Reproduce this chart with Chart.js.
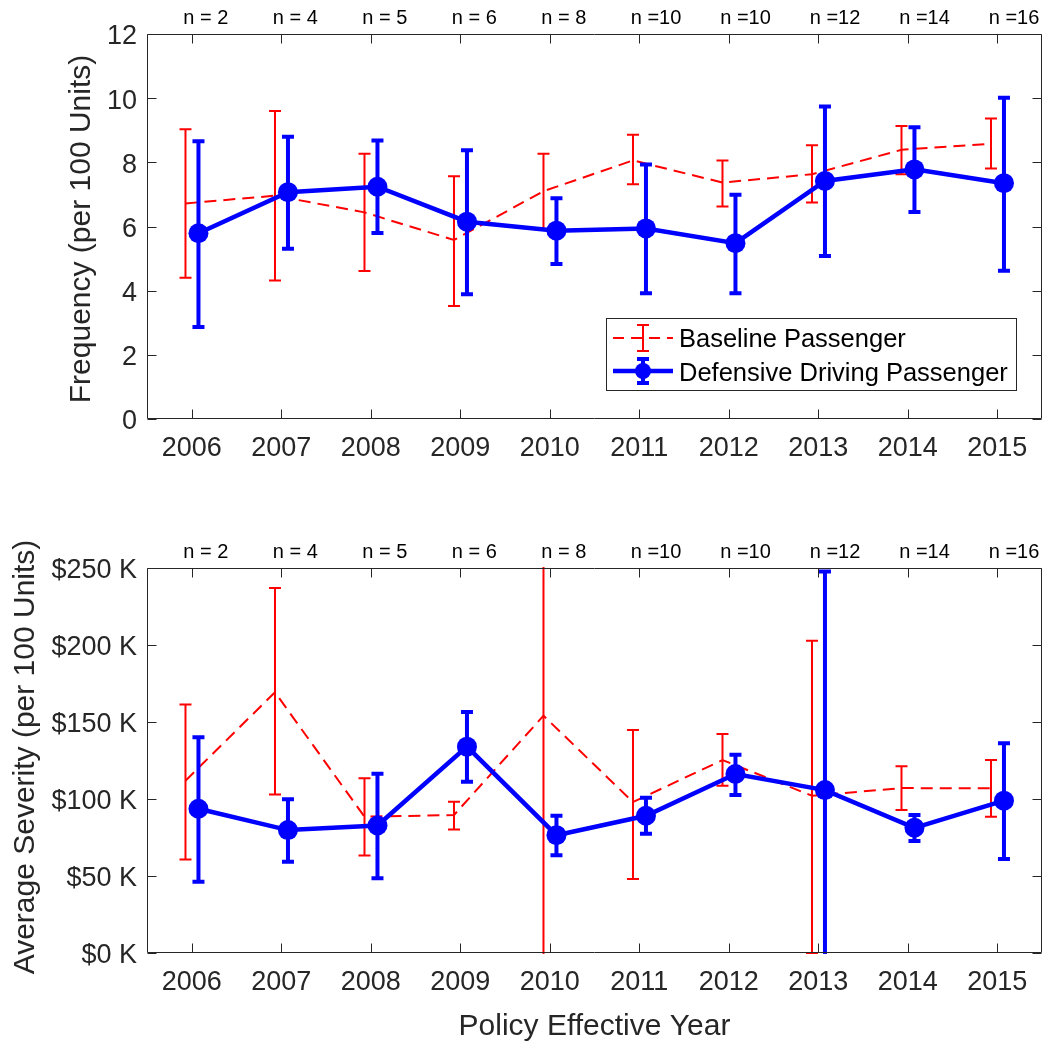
<!DOCTYPE html>
<html>
<head>
<meta charset="utf-8">
<script src="https://cdn.jsdelivr.net/npm/chart.js@4/dist/chart.umd.min.js"></script>
<style>
  html, body { margin: 0; padding: 0; background: #fff; }
  #wrap { position: relative; width: 1045px; height: 1042px; overflow: hidden; }
  .panel { position: absolute; left: 0; width: 1045px; }
</style>
</head>
<body>
<div id="wrap">
  <div class="panel" style="top:0;height:480px"><canvas id="freq" width="1045" height="480"></canvas></div>
  <div class="panel" style="top:480px;height:562px"><canvas id="sev" width="1045" height="562"></canvas></div>
</div>
<script>
// Policy years and group sizes
const years = [2006, 2007, 2008, 2009, 2010, 2011, 2012, 2013, 2014, 2015];
const sampleLabels = ['n = 2', 'n = 4', 'n = 5', 'n = 6', 'n = 8', 'n =10', 'n =10', 'n =12', 'n =14', 'n =16'];

// Frequency (per 100 units)
const freqBaseline      = [6.72, 6.96, 6.44, 5.58, 7.10, 8.06, 7.37, 7.63, 8.39, 8.58];
const freqBaselineLow   = [4.40, 4.32, 4.61, 3.52, 5.90, 7.32, 6.62, 6.75, 7.63, 7.81];
const freqBaselineHigh  = [9.03, 9.60, 8.27, 7.57, 8.27, 8.86, 8.06, 8.53, 9.13, 9.37];
const freqDefensive     = [5.79, 7.07, 7.24, 6.15, 5.87, 5.94, 5.48, 7.42, 7.78, 7.35];
const freqDefensiveLow  = [2.87, 5.31, 5.80, 3.89, 4.83, 3.92, 3.92, 5.08, 6.45, 4.62];
const freqDefensiveHigh = [8.66, 8.80, 8.68, 8.38, 6.88, 7.93, 6.99, 9.74, 9.09, 10.01];

// Average severity ($K per 100 units)
const sevBaseline      = [111.9, 169.3, 88.5, 89.6, 154.1, 98.0, 125.3, 102.1, 107.1, 106.9];
const sevBaselineLow   = [60.7, 103.0, 63.3, 80.2, -30.0, 48.1, 108.6, 0.0, 92.8, 88.4];
const sevBaselineHigh  = [161.3, 237.0, 113.4, 98.2, 340.0, 144.8, 142.2, 202.7, 121.2, 125.3];
const sevDefensive     = [93.7, 79.8, 82.8, 134.0, 76.5, 89.1, 116.2, 105.8, 81.3, 98.9];
const sevDefensiveLow  = [46.2, 59.2, 48.6, 111.2, 63.5, 77.4, 102.6, -40.0, 72.8, 61.1];
const sevDefensiveHigh = [140.1, 99.8, 116.4, 156.5, 89.1, 100.8, 128.8, 247.8, 89.6, 136.2];

// Tick values
const freqTicks = [0, 2, 4, 6, 8, 10, 12];
const sevTicks = [0, 50, 100, 150, 200, 250];

const RED = '#ff0000';
const BLUE = '#0000ff';
const AXIS = '#262626';
const FONT = '"Liberation Sans", Arial, Helvetica, sans-serif';
const BASE_SHIFT = -0.07;   // baseline series drawn slightly left of each year
const DEF_SHIFT = 0.075;    // defensive series drawn slightly right

function points(vals, shift) {
  return vals.map((v, i) => ({ x: years[i] + shift, y: v }));
}

// Error bars drawn just before the owning dataset's line
const errorBars = {
  id: 'errorBars',
  beforeDatasetDraw(chart, args) {
    const ds = chart.data.datasets[args.index];
    if (!ds.errLow) return;
    const { ctx, chartArea: a } = chart;
    const xs = chart.scales.x, ys = chart.scales.y;
    ctx.save();
    ctx.beginPath();
    ctx.rect(a.left - 1, a.top - 1, a.right - a.left + 2, a.bottom - a.top + 2);
    ctx.clip();
    ctx.strokeStyle = ds.borderColor;
    ctx.lineWidth = ds.errWidth;
    ctx.setLineDash([]);
    ctx.lineCap = 'butt';
    const hw = ds.capWidth / 2;
    ds.data.forEach((p, i) => {
      const x = xs.getPixelForValue(p.x);
      const y1 = ys.getPixelForValue(ds.errLow[i]);
      const y2 = ys.getPixelForValue(ds.errHigh[i]);
      ctx.beginPath();
      ctx.moveTo(x, y1); ctx.lineTo(x, y2);
      ctx.moveTo(x - hw, y1); ctx.lineTo(x + hw, y1);
      ctx.moveTo(x - hw, y2); ctx.lineTo(x + hw, y2);
      ctx.stroke();
    });
    ctx.restore();
  }
};

// Box, inward ticks, sample-size labels and axis titles
const frame = {
  id: 'frame',
  afterDraw(chart) {
    const o = chart.options.plugins.frame;
    const { ctx, chartArea: a } = chart;
    const xs = chart.scales.x, ys = chart.scales.y;
    const tl = 9;
    ctx.save();
    ctx.strokeStyle = AXIS;
    ctx.lineWidth = 1;
    ctx.setLineDash([]);
    ctx.beginPath();
    const L = Math.round(a.left) + 0.5, R = Math.round(a.right) - 0.5;
    const T = Math.round(a.top) + 0.5, B = Math.round(a.bottom) - 0.5;
    ctx.rect(L, T, R - L, B - T);
    years.forEach(yr => {
      const x = Math.round(xs.getPixelForValue(yr)) + 0.5;
      ctx.moveTo(x, B); ctx.lineTo(x, B - tl);
      ctx.moveTo(x, T); ctx.lineTo(x, T + tl);
    });
    o.ticks.forEach(v => {
      const y = Math.round(ys.getPixelForValue(v)) + 0.5;
      ctx.moveTo(L, y); ctx.lineTo(L + tl, y);
      ctx.moveTo(R, y); ctx.lineTo(R - tl, y);
    });
    ctx.stroke();

    // sample sizes above the plot
    ctx.fillStyle = '#000';
    ctx.font = '20px ' + FONT;
    ctx.textAlign = 'left';
    ctx.textBaseline = 'alphabetic';
    sampleLabels.forEach((s, i) => {
      ctx.fillText(s, xs.getPixelForValue(years[i] - 0.095), a.top - 10);
    });

    // y title
    ctx.fillStyle = AXIS;
    ctx.font = '30px ' + FONT;
    ctx.textAlign = 'center';
    ctx.save();
    ctx.translate(o.yTitleX, o.yTitleY);
    ctx.rotate(-Math.PI / 2);
    ctx.fillText(o.yTitle, 0, 0);
    ctx.restore();

    if (o.xTitle) {
      ctx.fillText(o.xTitle, (a.left + a.right) / 2, o.xTitleY);
    }

    if (o.legend) {
      const g = o.legend;
      ctx.fillStyle = '#fff';
      ctx.fillRect(g.left, g.top, g.right - g.left, g.bottom - g.top);
      ctx.strokeStyle = AXIS;
      ctx.lineWidth = 1;
      ctx.strokeRect(g.left + 0.5, g.top + 0.5, g.right - g.left, g.bottom - g.top);
      const x0 = g.left + 7, x1 = g.left + 67, xm = (x0 + x1) / 2;
      // baseline sample
      let y = g.top + 20;
      ctx.strokeStyle = RED;
      ctx.lineWidth = 2;
      ctx.setLineDash([11, 7]);
      ctx.beginPath(); ctx.moveTo(x0, y); ctx.lineTo(x1, y); ctx.stroke();
      ctx.setLineDash([]);
      ctx.beginPath();
      ctx.moveTo(xm, y - 13); ctx.lineTo(xm, y + 13);
      ctx.moveTo(xm - 6, y - 13); ctx.lineTo(xm + 6, y - 13);
      ctx.moveTo(xm - 6, y + 13); ctx.lineTo(xm + 6, y + 13);
      ctx.stroke();
      // defensive sample
      y = g.top + 53;
      ctx.strokeStyle = BLUE;
      ctx.lineWidth = 4.5;
      ctx.beginPath(); ctx.moveTo(x0, y); ctx.lineTo(x1, y); ctx.stroke();
      ctx.lineWidth = 4;
      ctx.beginPath();
      ctx.moveTo(xm, y - 12); ctx.lineTo(xm, y + 12);
      ctx.moveTo(xm - 6, y - 12); ctx.lineTo(xm + 6, y - 12);
      ctx.moveTo(xm - 6, y + 12); ctx.lineTo(xm + 6, y + 12);
      ctx.stroke();
      ctx.fillStyle = BLUE;
      ctx.beginPath(); ctx.arc(xm, y, 8, 0, Math.PI * 2); ctx.fill();
      // labels
      ctx.fillStyle = '#000';
      ctx.font = '25.5px ' + FONT;
      ctx.textAlign = 'left';
      ctx.fillText('Baseline Passenger', g.left + 73, g.top + 29);
      ctx.fillText('Defensive Driving Passenger', g.left + 73, g.top + 63);
    }
    ctx.restore();
  }
};

function makeChart(id, cfg) {
  const baseSet = {
    label: 'Baseline Passenger',
    data: points(cfg.base, BASE_SHIFT),
    errLow: cfg.baseLow, errHigh: cfg.baseHigh,
    borderColor: RED, backgroundColor: RED,
    borderWidth: 2, borderDash: [12, 7],
    pointRadius: 0, pointHoverRadius: 0,
    errWidth: 2, capWidth: 12,
    tension: 0, order: 2
  };
  const defSet = {
    label: 'Defensive Driving Passenger',
    data: points(cfg.def, DEF_SHIFT),
    errLow: cfg.defLow, errHigh: cfg.defHigh,
    borderColor: BLUE, backgroundColor: BLUE,
    borderWidth: 4.5,
    pointRadius: 10, pointHoverRadius: 10,
    pointBackgroundColor: BLUE, pointBorderWidth: 0,
    errWidth: 4, capWidth: 12,
    tension: 0, order: 1
  };
  return new Chart(document.getElementById(id), {
    type: 'line',
    data: { datasets: [baseSet, defSet] },
    options: {
      responsive: false,
      animation: false,
      devicePixelRatio: 1,
      layout: { autoPadding: false, padding: { left: 0, right: 3, top: cfg.padTop, bottom: 0 } },
      plugins: {
        legend: { display: false },
        tooltip: { enabled: false },
        frame: cfg.frame
      },
      scales: {
        x: {
          type: 'linear',
          min: 2005.5, max: 2015.5,
          afterBuildTicks: s => { s.ticks = years.map(v => ({ value: v })); },
          afterFit: s => {
            s.height = cfg.xHeight;
            s.paddingLeft = 0; s.paddingRight = 0;
          },
          grid: { display: false, drawTicks: false },
          border: { display: false },
          ticks: {
            autoSkip: false, maxRotation: 0,
            padding: 13,
            color: AXIS,
            font: { family: FONT, size: 27 },
            callback: v => String(v)
          }
        },
        y: {
          min: cfg.yMin, max: cfg.yMax,
          afterBuildTicks: s => { s.ticks = cfg.frame.ticks.map(v => ({ value: v })); },
          afterFit: s => {
            s.width = 147;
            s.paddingTop = 0; s.paddingBottom = 0;
          },
          grid: { display: false, drawTicks: false },
          border: { display: false },
          ticks: {
            padding: 10,
            labelOffset: 3,
            color: AXIS,
            font: { family: FONT, size: 27 },
            callback: cfg.yFormat
          }
        }
      }
    },
    plugins: [errorBars, frame]
  });
}

makeChart('freq', {
  base: freqBaseline, baseLow: freqBaselineLow, baseHigh: freqBaselineHigh,
  def: freqDefensive, defLow: freqDefensiveLow, defHigh: freqDefensiveHigh,
  yMin: 0, yMax: 12, padTop: 34, xHeight: 61,
  yFormat: v => String(v),
  frame: {
    ticks: freqTicks,
    yTitle: 'Frequency (per 100 Units)', yTitleX: 90, yTitleY: 229,
    legend: { left: 606, top: 318, right: 1016, bottom: 390 }
  }
});

makeChart('sev', {
  base: sevBaseline, baseLow: sevBaselineLow, baseHigh: sevBaselineHigh,
  def: sevDefensive, defLow: sevDefensiveLow, defHigh: sevDefensiveHigh,
  yMin: 0, yMax: 250, padTop: 88, xHeight: 89,
  yFormat: v => '$' + v + ' K',
  frame: {
    ticks: sevTicks,
    yTitle: 'Average Severity (per 100 Units)', yTitleX: 34, yTitleY: 277,
    xTitle: 'Policy Effective Year', xTitleY: 555
  }
});
</script>
</body>
</html>
